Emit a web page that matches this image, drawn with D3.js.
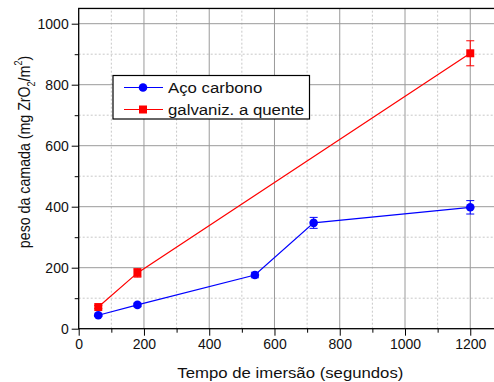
<!DOCTYPE html>
<html><head><meta charset="utf-8">
<script src="https://cdn.jsdelivr.net/npm/d3@7"></script>
<style>body{margin:0;background:#fff}svg{display:block}text{font-family:"Liberation Sans",Arial,sans-serif}</style>
</head><body>
<script>
const seriesNames = ["Aço carbono", "galvaniz. a quente"];
const seriesColors = ["#0000ff", "#ff0000"];
const acoX = [60, 180, 540, 720, 1200];
const acoY = [44, 78, 176, 347, 398];
const acoErr = [4, 6, 9, 18, 22];
const galvX = [60, 180, 1200];
const galvY = [71, 183, 903];
const galvErr = [5, 14, 41];
const xTicks = [0, 200, 400, 600, 800, 1000, 1200];
const yTicks = [0, 200, 400, 600, 800, 1000];
const xTitle = "Tempo de imersão (segundos)";

const W = 494, H = 382;
const svg = d3.select("body").append("svg").attr("width", W).attr("height", H);
const x = d3.scaleLinear().domain([0, 1300]).range([78.7, 78.7 + 1300 * 0.3263]);
const y = d3.scaleLinear().domain([0, 1050]).range([328.7, 328.7 - 1050 * 0.305]);
const x0 = x.range()[0], x1 = x.range()[1], y0 = y.range()[0], y1 = y.range()[1];

// grid
const g = svg.append("g");
const minorX = d3.range(100, 1300, 200), minorY = d3.range(100, 1050, 200);
g.selectAll(".mx").data(minorX).enter().append("line")
  .attr("x1", d => x(d)).attr("x2", d => x(d)).attr("y1", y0).attr("y2", y1)
  .attr("stroke", "#c8c8c8").attr("stroke-dasharray", "2,2").attr("stroke-width", 1);
g.selectAll(".my").data(minorY).enter().append("line")
  .attr("y1", d => y(d)).attr("y2", d => y(d)).attr("x1", x0).attr("x2", x1)
  .attr("stroke", "#c8c8c8").attr("stroke-dasharray", "2,2").attr("stroke-width", 1);
g.selectAll(".gx").data(xTicks.slice(1)).enter().append("line")
  .attr("x1", d => x(d)).attr("x2", d => x(d)).attr("y1", y0).attr("y2", y1)
  .attr("stroke", "#9a9a9a").attr("stroke-width", 1);
g.selectAll(".gy").data(yTicks.slice(1)).enter().append("line")
  .attr("y1", d => y(d)).attr("y2", d => y(d)).attr("x1", x0).attr("x2", x1)
  .attr("stroke", "#9a9a9a").attr("stroke-width", 1);

// axes
const xAxis = d3.axisBottom(x).tickValues(xTicks).tickSize(7).tickPadding(3).tickFormat(d3.format("d"));
const yAxis = d3.axisLeft(y).tickValues(yTicks).tickSize(7).tickPadding(3).tickFormat(d3.format("d"));
const xMinorAxis = d3.axisBottom(x).tickValues(minorX).tickSize(4).tickFormat("");
const yMinorAxis = d3.axisLeft(y).tickValues(minorY).tickSize(4).tickFormat("");
function style(sel){
  sel.select(".domain").remove();
  sel.selectAll("line").attr("stroke", "#000").attr("stroke-width", 1);
  sel.selectAll("text").attr("font-size", 14).attr("fill", "#111");
}
svg.append("g").attr("transform", `translate(0,${y0})`).call(xAxis).call(style);
svg.append("g").attr("transform", `translate(0,${y0})`).call(xMinorAxis).call(style);
svg.append("g").attr("transform", `translate(${x0},0)`).call(yAxis).call(style);
svg.append("g").attr("transform", `translate(${x0},0)`).call(yMinorAxis).call(style);
// frame
svg.append("rect").attr("x", x0).attr("y", y1).attr("width", x1 - x0).attr("height", y0 - y1)
  .attr("fill", "none").attr("stroke", "#000").attr("stroke-width", 1.3);

// series
const series = [
  {x: acoX, y: acoY, e: acoErr, c: seriesColors[0], shape: "circle"},
  {x: galvX, y: galvY, e: galvErr, c: seriesColors[1], shape: "square"}
];
const line = d3.line().x(d => x(d[0])).y(d => y(d[1]));
series.slice().reverse().forEach(s => {
  const pts = s.x.map((v, i) => [v, s.y[i], s.e[i]]);
  svg.append("path").datum(pts).attr("d", line).attr("fill", "none").attr("stroke", s.c).attr("stroke-width", 1.2);
  const eg = svg.append("g").attr("stroke", s.c).attr("stroke-width", 1);
  pts.forEach(p => {
    const cx = x(p[0]), ya = y(p[1] + p[2]), yb = y(p[1] - p[2]);
    eg.append("line").attr("x1", cx).attr("x2", cx).attr("y1", ya).attr("y2", yb);
    eg.append("line").attr("x1", cx - 4).attr("x2", cx + 4).attr("y1", ya).attr("y2", ya);
    eg.append("line").attr("x1", cx - 4).attr("x2", cx + 4).attr("y1", yb).attr("y2", yb);
  });
  if (s.shape === "circle") {
    svg.append("g").selectAll("circle").data(pts).enter().append("circle")
      .attr("cx", d => x(d[0])).attr("cy", d => y(d[1])).attr("r", 4.3).attr("fill", s.c);
  } else {
    svg.append("g").selectAll("rect").data(pts).enter().append("rect")
      .attr("x", d => x(d[0]) - 4).attr("y", d => y(d[1]) - 4).attr("width", 8).attr("height", 8).attr("fill", s.c);
  }
});

// legend
const lg = svg.append("g");
lg.append("rect").attr("x", 113).attr("y", 75.5).attr("width", 196.5).attr("height", 43.5)
  .attr("fill", "#fff").attr("stroke", "#000").attr("stroke-width", 1.2);
seriesNames.forEach((name, i) => {
  const ly = 87.5 + i * 22;
  lg.append("line").attr("x1", 124).attr("x2", 163).attr("y1", ly).attr("y2", ly).attr("stroke", seriesColors[i]).attr("stroke-width", 1.2);
  if (i === 0) lg.append("circle").attr("cx", 143).attr("cy", ly).attr("r", 4.3).attr("fill", seriesColors[i]);
  else lg.append("rect").attr("x", 139).attr("y", ly - 4).attr("width", 8).attr("height", 8).attr("fill", seriesColors[i]);
  lg.append("text").attr("transform", `translate(168,${ly + 5.5}) scale(1.12,1)`)
    .attr("font-size", 15).attr("fill", "#111").text(name);
});

// titles
svg.append("text").attr("transform", `translate(${(x0 + 494) / 2 + 4},378) scale(1.08,1)`).attr("text-anchor", "middle")
  .attr("font-size", 15.5).attr("fill", "#111").text(xTitle);
const yt = svg.append("text").attr("transform", "translate(30,152) scale(1.15,1) rotate(-90)").attr("text-anchor", "middle")
  .attr("font-size", 14.2).attr("fill", "#111");
yt.append("tspan").text("peso da camada (mg ZrO");
yt.append("tspan").attr("font-size", 9).attr("dy", 4).text("2");
yt.append("tspan").attr("dy", -4).text("/m");
yt.append("tspan").attr("font-size", 9).attr("dy", -7).text("2");
yt.append("tspan").attr("dy", 7).text(")");
</script>
</body></html>
